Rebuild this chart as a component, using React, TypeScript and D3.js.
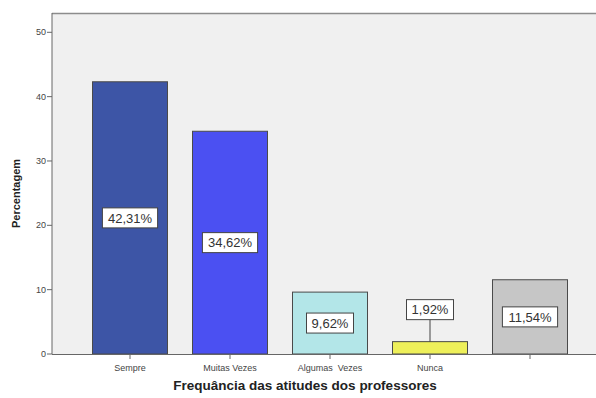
import React from "react";
import * as d3 from "d3";

const categories = ["Sempre", "Muitas Vezes", "Algumas  Vezes", "Nunca", "(em branco)"];
const tickLabels = ["Sempre", "Muitas Vezes", "Algumas  Vezes", "Nunca", ""];
const percentages = [42.31, 34.62, 9.62, 1.92, 11.54];
const barColors = ["#3d55a6", "#4b50f2", "#b3e6e8", "#eef05a", "#c6c6c6"];
const yTicks = [0, 10, 20, 30, 40, 50];

const W = 596;
const H = 398;
const plot = { left: 52, right: 596, top: 13, bottom: 354 };

const fmt = (v: number) => v.toFixed(2).replace(".", ",") + "%";

export default function App() {
  const x = d3.scaleBand<string>().domain(categories).range([80, 580]).paddingInner(0.25).paddingOuter(0.125);
  const y = d3.scaleLinear().domain([0, 53]).range([plot.bottom, plot.top]);
  const font = "'Liberation Sans', Arial, sans-serif";

  return (
    <div style={{ position: "fixed", left: 0, top: 0, width: W, height: H, background: "#fff" }}>
      <svg width={W} height={H} style={{ display: "block" }} fontFamily={font}>
        <rect x={plot.left} y={plot.top} width={plot.right - plot.left} height={plot.bottom - plot.top} fill="#f0f0f0" />
        <line x1={plot.left} x2={plot.right} y1={plot.top + 0.5} y2={plot.top + 0.5} stroke="#8c8c8c" strokeWidth={1.5} />

        {categories.map((c, i) => (
          <rect
            key={c}
            x={x(c)!}
            y={y(percentages[i])}
            width={x.bandwidth()}
            height={y(0) - y(percentages[i])}
            fill={barColors[i]}
            stroke="#4a4a4a"
            strokeWidth={1}
          />
        ))}

        {/* axes */}
        <line x1={plot.left} x2={plot.left} y1={plot.top} y2={plot.bottom} stroke="#666" />
        <line x1={plot.left} x2={plot.right} y1={plot.bottom + 0.5} y2={plot.bottom + 0.5} stroke="#666" />
        {yTicks.map((t) => (
          <g key={t}>
            <line x1={plot.left - 5} x2={plot.left} y1={y(t)} y2={y(t)} stroke="#666" />
            <text x={plot.left - 6} y={y(t)} dy="0.35em" textAnchor="end" fontSize={9} fill="#444">
              {t}
            </text>
          </g>
        ))}
        {categories.map((c, i) => {
          const cx = x(c)! + x.bandwidth() / 2;
          return (
            <g key={c}>
              <line x1={cx} x2={cx} y1={plot.bottom} y2={plot.bottom + 5} stroke="#666" />
              <text x={cx} y={plot.bottom + 17} textAnchor="middle" fontSize={9} fill="#444" style={{ whiteSpace: "pre" }}>
                {tickLabels[i]}
              </text>
            </g>
          );
        })}

        {/* value labels */}
        {categories.map((c, i) => {
          const cx = x(c)! + x.bandwidth() / 2;
          const v = percentages[i];
          const small = y(0) - y(v) < 30;
          const cy = small ? y(v) - 32 : (y(v) + y(0)) / 2;
          const label = fmt(v);
          const bw = label.length * 8.2 + 6;
          const bh = 20;
          return (
            <g key={c}>
              {small && <line x1={cx} x2={cx} y1={cy + bh / 2} y2={y(v)} stroke="#444" />}
              <rect x={cx - bw / 2} y={cy - bh / 2} width={bw} height={bh} fill="#fff" stroke="#444" />
              <text x={cx} y={cy} dy="0.36em" textAnchor="middle" fontSize={13} fill="#333">
                {label}
              </text>
            </g>
          );
        })}

        <text
          transform={`translate(20,${(plot.top + plot.bottom) / 2 + 10}) rotate(-90)`}
          textAnchor="middle"
          fontSize={11}
          fontWeight="bold"
          fill="#222"
        >
          Percentagem
        </text>
        <text x={305} y={390} textAnchor="middle" fontSize={13.5} fontWeight="bold" fill="#222">
          Frequância das atitudes dos professores
        </text>
      </svg>
    </div>
  );
}
